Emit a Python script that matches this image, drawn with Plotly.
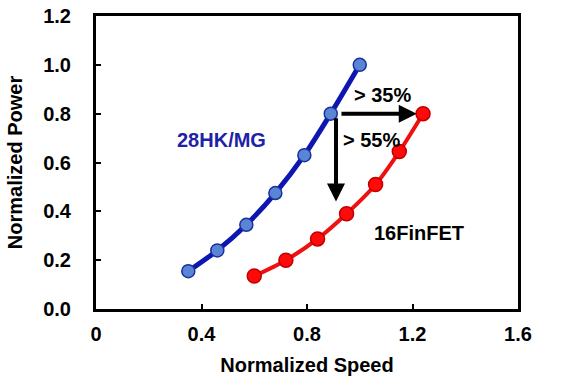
import plotly.graph_objects as go

# Data
hk_speed = [0.35, 0.46, 0.57, 0.68, 0.79, 0.89, 1.00]
hk_power = [0.155, 0.24, 0.345, 0.475, 0.63, 0.80, 1.00]
fin_speed = [0.60, 0.72, 0.84, 0.95, 1.06, 1.15, 1.24]
fin_power = [0.135, 0.20, 0.287, 0.39, 0.51, 0.645, 0.80]

x_tickvals = [0, 0.4, 0.8, 1.2, 1.6]
x_ticktext = ["0", "0.4", "0.8", "1.2", "1.6"]
y_tickvals = [0.0, 0.2, 0.4, 0.6, 0.8, 1.0, 1.2]
y_ticktext = ["0.0", "0.2", "0.4", "0.6", "0.8", "1.0", "1.2"]

FONT = "Liberation Sans, Arial, sans-serif"

fig = go.Figure()
fig.add_trace(go.Scatter(
    x=hk_speed, y=hk_power, mode="lines+markers", name="28HK/MG",
    line=dict(color="#0D16B0", width=5, shape="spline", smoothing=0.8),
    marker=dict(size=13, color="#5A85D4", line=dict(color="#1A30A0", width=1.5)),
))
fig.add_trace(go.Scatter(
    x=fin_speed, y=fin_power, mode="lines+markers", name="16FinFET",
    line=dict(color="#F01010", width=4, shape="spline", smoothing=0.8),
    marker=dict(size=14, color="#FF0A0A", line=dict(color="#C00000", width=1.5)),
))

annotations = [
    # horizontal arrow: speed gain
    dict(x=1.216, y=0.80, ax=0.925, ay=0.80, xref="x", yref="y", axref="x", ayref="y",
         text="", showarrow=True, arrowhead=2, arrowsize=0.9, arrowwidth=4, arrowcolor="black",
         standoff=0, startstandoff=0),
    # vertical arrow: power reduction
    dict(x=0.91, y=0.44, ax=0.91, ay=0.787, xref="x", yref="y", axref="x", ayref="y",
         text="", showarrow=True, arrowhead=2, arrowsize=0.9, arrowwidth=4, arrowcolor="black",
         standoff=0, startstandoff=0),
    dict(x=1.088, y=0.876, xref="x", yref="y", text="> 35%", showarrow=False,
         font=dict(family=FONT, size=20, color="black", weight="bold")),
    dict(x=1.043, y=0.692, xref="x", yref="y", text="> 55%", showarrow=False,
         font=dict(family=FONT, size=20, color="black", weight="bold")),
    dict(x=0.475, y=0.692, xref="x", yref="y", text="28HK/MG", showarrow=False,
         font=dict(family=FONT, size=20, color="#1E22A6", weight="bold")),
    dict(x=1.225, y=0.311, xref="x", yref="y", text="16FinFET", showarrow=False,
         font=dict(family=FONT, size=20, color="black", weight="bold")),
]

fig.update_layout(
    width=562, height=385,
    margin=dict(l=96, r=44, t=16, b=76, autoexpand=False),
    paper_bgcolor="white", plot_bgcolor="white",
    showlegend=False,
    font=dict(family=FONT, size=20, color="black", weight="bold"),
    annotations=annotations,
)
fig.update_xaxes(
    range=[0, 1.6], tickvals=x_tickvals, ticktext=x_ticktext,
    automargin=False,
    showgrid=False, zeroline=False,
    showline=True, mirror=True, linecolor="black", linewidth=3,
    ticks="inside", ticklen=5, tickwidth=1.5, tickcolor="black",
    ticklabelstandoff=5,
    tickfont=dict(family=FONT, size=20, color="black", weight="bold"),
    title=dict(text="Normalized Speed", standoff=14,
               font=dict(family=FONT, size=20, color="black", weight="bold")),
)
fig.update_yaxes(
    range=[0, 1.2], tickvals=y_tickvals, ticktext=y_ticktext,
    automargin=False,
    showgrid=False, zeroline=False,
    showline=True, mirror=True, linecolor="black", linewidth=3,
    ticks="inside", ticklen=5, tickwidth=1.5, tickcolor="black",
    ticklabelstandoff=18,
    tickfont=dict(family=FONT, size=20, color="black", weight="bold"),
    title=dict(text="Normalized Power", standoff=16,
               font=dict(family=FONT, size=20, color="black", weight="bold")),
)

fig.write_html(
    "out.html",
    config={"displayModeBar": False},
    post_script="document.body.style.margin='0';document.body.style.overflow='hidden';",
)
